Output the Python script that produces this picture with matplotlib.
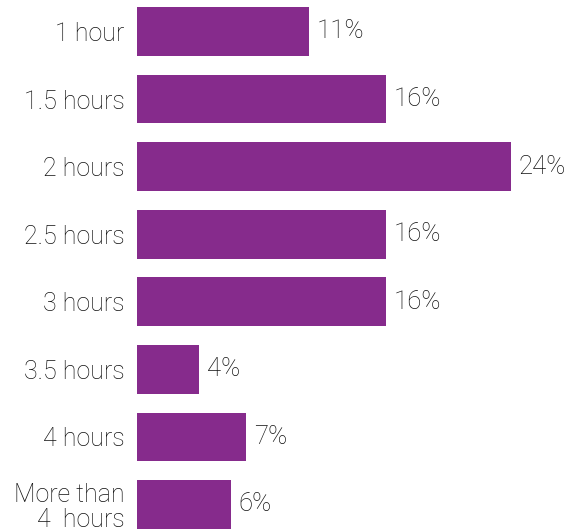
import matplotlib.pyplot as plt

plt.rcParams['font.family'] = ['Roboto', 'DejaVu Sans']

# data
categories = ['1 hour', '1.5 hours', '2 hours', '2.5 hours', '3 hours',
              '3.5 hours', '4 hours', 'More than\n4  hours']
percent = [11, 16, 24, 16, 16, 4, 7, 6]

BAR_COLOR = '#862B8C'
TEXT_COLOR = '#111111'

fig = plt.figure(figsize=(5.69, 5.32), dpi=100)
ax = fig.add_axes([137 / 569, 0, 421 / 569, 1])

ypos = list(range(len(categories)))
ax.barh(ypos, percent, height=0.72, color=BAR_COLOR)

for y, v in zip(ypos, percent):
    ax.annotate(f'{v}%', xy=(v, y), xytext=(5.5, 0), textcoords='offset points',
                va='center', ha='left', fontsize=18.5, fontweight='light',
                color=TEXT_COLOR)

ax.set_xlim(0, 27)
ax.set_ylim(7.407, -0.466)
ax.set_yticks(ypos)
ax.set_yticklabels(categories, fontsize=18, fontweight='light', color=TEXT_COLOR,
                   linespacing=1.05)
ax.tick_params(axis='y', length=0, pad=9)
ax.set_xticks([])
for s in ax.spines.values():
    s.set_visible(False)

fig.savefig('out.png', dpi=100)
